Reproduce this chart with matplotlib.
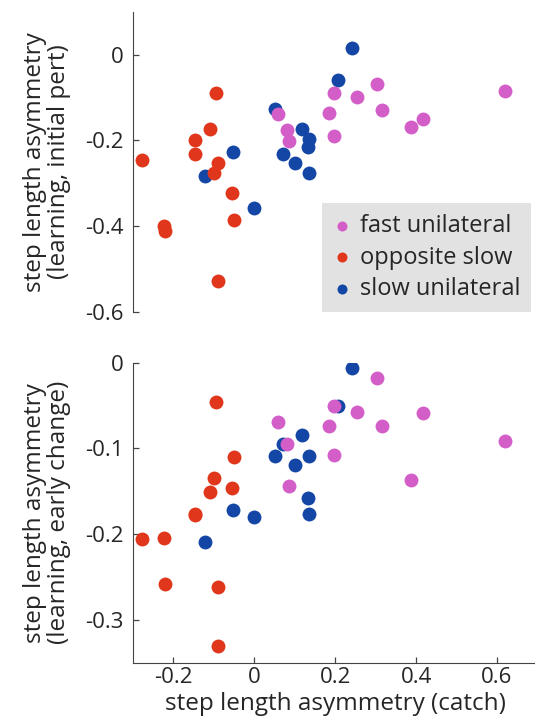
"""Step length asymmetry: learning vs catch, two panels."""
import matplotlib
matplotlib.use("Agg")
import matplotlib.pyplot as plt
from matplotlib.ticker import FuncFormatter

plt.rcParams["font.family"] = ["Open Sans", "DejaVu Sans"]
plt.rcParams["axes.unicode_minus"] = False

# catch (x) values, shared by both panels
fast_catch = [0.058, 0.081, 0.086, 0.185, 0.196, 0.197, 0.254, 0.303, 0.315, 0.387, 0.418, 0.620]
opp_catch = [-0.277, -0.147, -0.147, -0.110, -0.096, -0.091, -0.100, -0.055, -0.051, -0.224, -0.222, -0.091]
slow_catch = [-0.123, -0.053, -0.001, 0.050, 0.072, 0.101, 0.118, 0.134, 0.133, 0.136, 0.206, 0.241]

# learning, initial pert
fast_init = [-0.138, -0.177, -0.202, -0.137, -0.090, -0.191, -0.100, -0.068, -0.130, -0.169, -0.151, -0.086]
opp_init = [-0.247, -0.200, -0.231, -0.174, -0.090, -0.253, -0.276, -0.322, -0.385, -0.399, -0.411, -0.529]
slow_init = [-0.283, -0.228, -0.357, -0.128, -0.231, -0.254, -0.174, -0.196, -0.215, -0.276, -0.060, 0.016]

# learning, early change
fast_early = [-0.069, -0.095, -0.144, -0.074, -0.051, -0.108, -0.057, -0.018, -0.074, -0.137, -0.059, -0.091]
opp_early = [-0.206, -0.176, -0.178, -0.151, -0.046, -0.262, -0.134, -0.146, -0.110, -0.204, -0.258, -0.331]
slow_early = [-0.209, -0.172, -0.180, -0.109, -0.095, -0.119, -0.084, -0.109, -0.158, -0.176, -0.051, -0.006]

C_FAST = "#d35ec8"
C_OPP = "#e0361c"
C_SLOW = "#1446a6"
INK = "#262626"
MS = 100


def fmt(v, pos):
    return "%g" % round(v, 3)


fig = plt.figure(figsize=(5.35, 7.18), dpi=100)
ax1 = fig.add_axes([0.2486, 0.5659, 0.756, 0.4178])
ax2 = fig.add_axes([0.2486, 0.0770, 0.756, 0.4178])

for ax, yf, yo, ys in [(ax1, fast_init, opp_init, slow_init),
                       (ax2, fast_early, opp_early, slow_early)]:
    ax.scatter(slow_catch, ys, s=MS, color=C_SLOW, linewidths=0, label="slow unilateral", zorder=3)
    ax.scatter(opp_catch, yo, s=MS, color=C_OPP, linewidths=0, label="opposite slow", zorder=3)
    ax.scatter(fast_catch, yf, s=MS, color=C_FAST, linewidths=0, label="fast unilateral", zorder=3)
    ax.set_xlim(-0.3, 0.7)
    for s in ["top", "right"]:
        ax.spines[s].set_visible(False)
    ax.spines["left"].set_color("#444")
    ax.spines["bottom"].set_color("#444")
    ax.tick_params(direction="in", length=4, width=0.9, color="#444",
                   labelsize=16, labelcolor=INK)
    ax.tick_params(axis="y", pad=7)
    ax.tick_params(axis="x", pad=3)
    ax.yaxis.set_major_formatter(FuncFormatter(fmt))
    ax.xaxis.set_major_formatter(FuncFormatter(fmt))

# top panel
ax1.set_ylim(-0.6, 0.1)
ax1.set_yticks([-0.6, -0.4, -0.2, 0])
ax1.spines["bottom"].set_visible(False)
ax1.set_xticks([])
ax1.set_ylabel("step length asymmetry\n(learning, initial pert)", fontsize=17.5, color=INK,
               labelpad=10, linespacing=1.0)
h, l = ax1.get_legend_handles_labels()
order = [2, 1, 0]
leg = ax1.legend([h[i] for i in order], [l[i] for i in order], loc="lower left",
                 bbox_to_anchor=(0.467, 0.0), fontsize=17, frameon=True, fancybox=False,
                 facecolor="#e2e2e2", edgecolor="none", framealpha=1, borderaxespad=0,
                 handlelength=0.8, handletextpad=0.35, labelspacing=0.32, borderpad=0.45,
                 markerscale=0.72)
for t in leg.get_texts():
    t.set_color(INK)

# bottom panel
ax2.set_ylim(-0.35, 0)
ax2.set_yticks([-0.3, -0.2, -0.1, 0])
ax2.set_xticks([-0.2, 0, 0.2, 0.4, 0.6])
ax2.set_ylabel("step length asymmetry\n(learning, early change)", fontsize=17.5, color=INK,
               labelpad=10, linespacing=1.0)
ax2.set_xlabel("step length asymmetry (catch)", fontsize=17.5, color=INK, labelpad=3)

fig.savefig("out.png", dpi=100)
plt.close(fig)
print("OK out.png")
